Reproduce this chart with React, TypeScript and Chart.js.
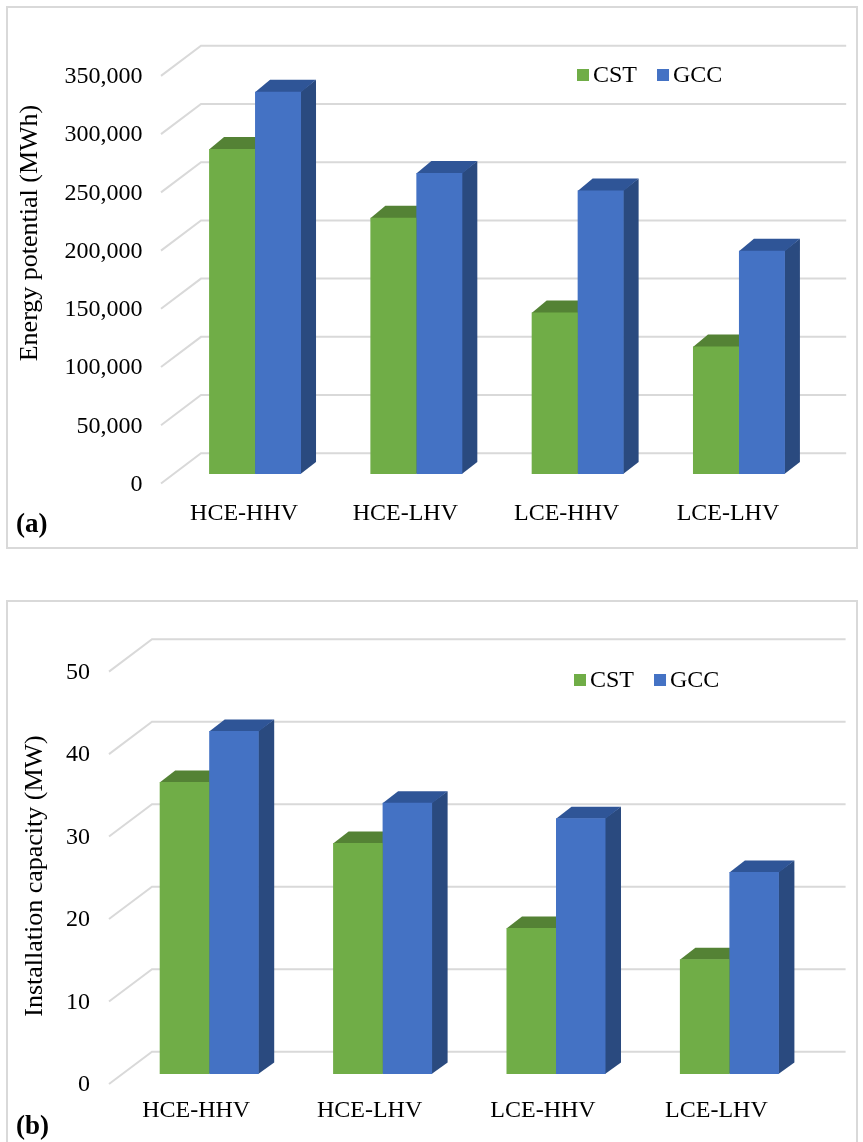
import React, { useEffect, useRef } from "react";
import { Chart, registerables } from "chart.js";

Chart.register(...registerables);

// ---------- data ----------
const categories = ["HCE-HHV", "HCE-LHV", "LCE-HHV", "LCE-LHV"];
const seriesNames = ["CST", "GCC"];
const energyCST = [279000, 220000, 138700, 109500];
const energyGCC = [328300, 258500, 243500, 191800];
const capacityCST = [35.4, 28.0, 17.7, 13.9];
const capacityGCC = [41.6, 32.9, 31.0, 24.5];
const energyAxisMax = 350000;
const energyAxisStep = 50000;
const capacityAxisMax = 50;
const capacityAxisStep = 10;
const energyTitle = "Energy potential (MWh)";
const capacityTitle = "Installation capacity (MW)";

// ---------- styles ----------
const FONT = "'Liberation Serif', 'Times New Roman', serif";
const GREEN = { front: "#70AD47", top: "#548235", side: "#4E7A31" };
const BLUE = { front: "#4472C4", top: "#2F5597", side: "#2A4A7F" };
const GRID = "#d9d9d9";

const bars3d = {
  id: "bars3d",
  beforeDatasetsDraw(chart: any, _args: any, opts: any) {
    const { ctx, chartArea, scales } = chart;
    const y = scales.y;
    ctx.save();
    ctx.strokeStyle = GRID;
    ctx.lineWidth = 2;
    ctx.lineJoin = "miter";
    y.ticks.forEach((t: any) => {
      const py = y.getPixelForValue(t.value);
      ctx.beginPath();
      ctx.moveTo(chartArea.left + opts.frontDx, py + opts.frontDy);
      ctx.lineTo(chartArea.left + opts.backDx, py + opts.backDy);
      ctx.lineTo(chartArea.right + opts.backDx, py + opts.backDy);
      ctx.stroke();
    });
    const dx = opts.depthDx;
    const dy = opts.depthDy;
    chart.data.datasets.forEach((ds: any, di: number) => {
      const meta = chart.getDatasetMeta(di);
      meta.data.forEach((bar: any) => {
        const p = bar.getProps(["x", "y", "base", "width"], true);
        const l = p.x - p.width / 2;
        const r = p.x + p.width / 2;
        const top = p.y;
        const base = p.base;
        ctx.fillStyle = ds.sideColor;
        ctx.beginPath();
        ctx.moveTo(r - 0.5, top);
        ctx.lineTo(r + dx, top + dy);
        ctx.lineTo(r + dx, base + dy);
        ctx.lineTo(r - 0.5, base);
        ctx.closePath();
        ctx.fill();
        ctx.fillStyle = ds.topColor;
        ctx.beginPath();
        ctx.moveTo(l, top + 0.5);
        ctx.lineTo(l + dx, top + dy);
        ctx.lineTo(r + dx, top + dy);
        ctx.lineTo(r, top + 0.5);
        ctx.closePath();
        ctx.fill();
      });
    });
    ctx.restore();
  },
  afterDraw(chart: any, _args: any, opts: any) {
    const { ctx } = chart;
    ctx.save();
    // legend
    ctx.font = `24px ${FONT}`;
    ctx.textBaseline = "middle";
    ctx.textAlign = "left";
    let x = opts.legendX;
    chart.data.datasets.forEach((ds: any) => {
      const s = opts.legendSquare;
      ctx.fillStyle = ds.backgroundColor;
      ctx.fillRect(x, opts.legendY - s / 2, s, s);
      x += s + 4;
      ctx.fillStyle = "#000";
      ctx.fillText(ds.label, x, opts.legendY + 1);
      x += ctx.measureText(ds.label).width + 20;
    });
    // axis title
    ctx.save();
    ctx.translate(opts.titleX, opts.titleY);
    ctx.rotate(-Math.PI / 2);
    ctx.textAlign = "center";
    ctx.textBaseline = "middle";
    ctx.font = `26px ${FONT}`;
    ctx.fillStyle = "#000";
    ctx.fillText(opts.title, 0, 0);
    ctx.restore();
    // panel label
    ctx.font = `bold 27px ${FONT}`;
    ctx.textAlign = "left";
    ctx.textBaseline = "middle";
    ctx.fillStyle = "#000";
    ctx.fillText(opts.panelLabel, opts.panelX, opts.panelY);
    ctx.restore();
  },
};

type PanelCfg = {
  top: number;
  height: number;
  cst: number[];
  gcc: number[];
  max: number;
  step: number;
  yWidth: number;
  padLeft: number;
  padRight: number;
  padTop: number;
  xHeight: number;
  catPct: number;
  yPad: number;
  yLabelOffset: number;
  xPad: number;
  xLabelOffset: number;
  geo: any;
};

function Panel({ cfg }: { cfg: PanelCfg }) {
  const ref = useRef<HTMLCanvasElement | null>(null);
  useEffect(() => {
    if (!ref.current) return;
    const tickFont = { family: FONT, size: 24 };
    const chart = new Chart(ref.current, {
      type: "bar",
      data: {
        labels: categories,
        datasets: [
          {
            label: seriesNames[0],
            data: cfg.cst,
            backgroundColor: GREEN.front,
            topColor: GREEN.top,
            sideColor: GREEN.side,
            borderWidth: 0,
            categoryPercentage: cfg.catPct,
            barPercentage: 1,
          } as any,
          {
            label: seriesNames[1],
            data: cfg.gcc,
            backgroundColor: BLUE.front,
            topColor: BLUE.top,
            sideColor: BLUE.side,
            borderWidth: 0,
            categoryPercentage: cfg.catPct,
            barPercentage: 1,
          } as any,
        ],
      },
      options: {
        animation: false,
        responsive: false,
        maintainAspectRatio: false,
        devicePixelRatio: 1,
        layout: {
          padding: { left: cfg.padLeft, right: cfg.padRight, top: cfg.padTop, bottom: 0 },
        },
        plugins: {
          legend: { display: false },
          tooltip: { enabled: false },
          bars3d: cfg.geo,
        } as any,
        scales: {
          x: {
            grid: { display: false, drawTicks: false },
            border: { display: false },
            ticks: {
              font: tickFont,
              color: "#000",
              padding: cfg.xPad,
              labelOffset: cfg.xLabelOffset,
              maxRotation: 0,
              autoSkip: false,
            },
            afterFit: (s: any) => {
              s.height = cfg.xHeight;
            },
          },
          y: {
            min: 0,
            max: cfg.max,
            grid: { display: false, drawTicks: false },
            border: { display: false },
            ticks: {
              stepSize: cfg.step,
              font: tickFont,
              color: "#000",
              padding: cfg.yPad,
              labelOffset: cfg.yLabelOffset,
              callback: (v: any) => Number(v).toLocaleString("en-US"),
            },
            afterFit: (s: any) => {
              s.width = cfg.yWidth;
            },
          },
        },
      },
      plugins: [bars3d as any],
    });
    return () => chart.destroy();
  }, [cfg]);
  return (
    <canvas
      ref={ref}
      width={863}
      height={cfg.height}
      style={{ position: "absolute", left: 0, top: cfg.top, width: 863, height: cfg.height, display: "block" }}
    />
  );
}

const panelA: PanelCfg = {
  top: 0,
  height: 560,
  cst: energyCST,
  gcc: energyGCC,
  max: energyAxisMax,
  step: energyAxisStep,
  yWidth: 120,
  padLeft: 54.4,
  padRight: 43.4,
  padTop: 66.4,
  xHeight: 86,
  catPct: 0.57,
  yPad: 32,
  yLabelOffset: 10.5,
  xPad: 25,
  xLabelOffset: -11,
  geo: {
    frontDx: -13.4,
    frontDy: 9.5,
    backDx: 26.6,
    backDy: -20.7,
    depthDx: 15,
    depthDy: -12,
    legendX: 577,
    legendY: 75,
    legendSquare: 12,
    title: energyTitle,
    titleX: 30,
    titleY: 233,
    panelLabel: "(a)",
    panelX: 16,
    panelY: 525,
  },
};

const panelB: PanelCfg = {
  top: 590,
  height: 552,
  cst: capacityCST,
  gcc: capacityGCC,
  max: capacityAxisMax,
  step: capacityAxisStep,
  yWidth: 100,
  padLeft: 22.5,
  padRight: 46.9,
  padTop: 71.6,
  xHeight: 68,
  catPct: 0.571,
  yPad: 32.5,
  yLabelOffset: 11,
  xPad: 22.6,
  xLabelOffset: -13,
  geo: {
    frontDx: -13.5,
    frontDy: 10,
    backDx: 29.5,
    backDy: -22.3,
    depthDx: 15.5,
    depthDy: -11.5,
    legendX: 574,
    legendY: 90,
    legendSquare: 12,
    title: capacityTitle,
    titleX: 35,
    titleY: 286,
    panelLabel: "(b)",
    panelX: 16,
    panelY: 537,
  },
};

export default function App() {
  return (
    <div
      style={{
        position: "absolute",
        left: 0,
        top: 0,
        width: 863,
        height: 1142,
        overflow: "hidden",
        background: "#fff",
      }}
    >
      <div
        style={{
          position: "absolute",
          left: 6,
          top: 6,
          width: 852,
          height: 543,
          boxSizing: "border-box",
          border: `2px solid ${GRID}`,
        }}
      />
      <div
        style={{
          position: "absolute",
          left: 6,
          top: 600,
          width: 852,
          height: 600,
          boxSizing: "border-box",
          border: `2px solid ${GRID}`,
        }}
      />
      <Panel cfg={panelA} />
      <Panel cfg={panelB} />
    </div>
  );
}
